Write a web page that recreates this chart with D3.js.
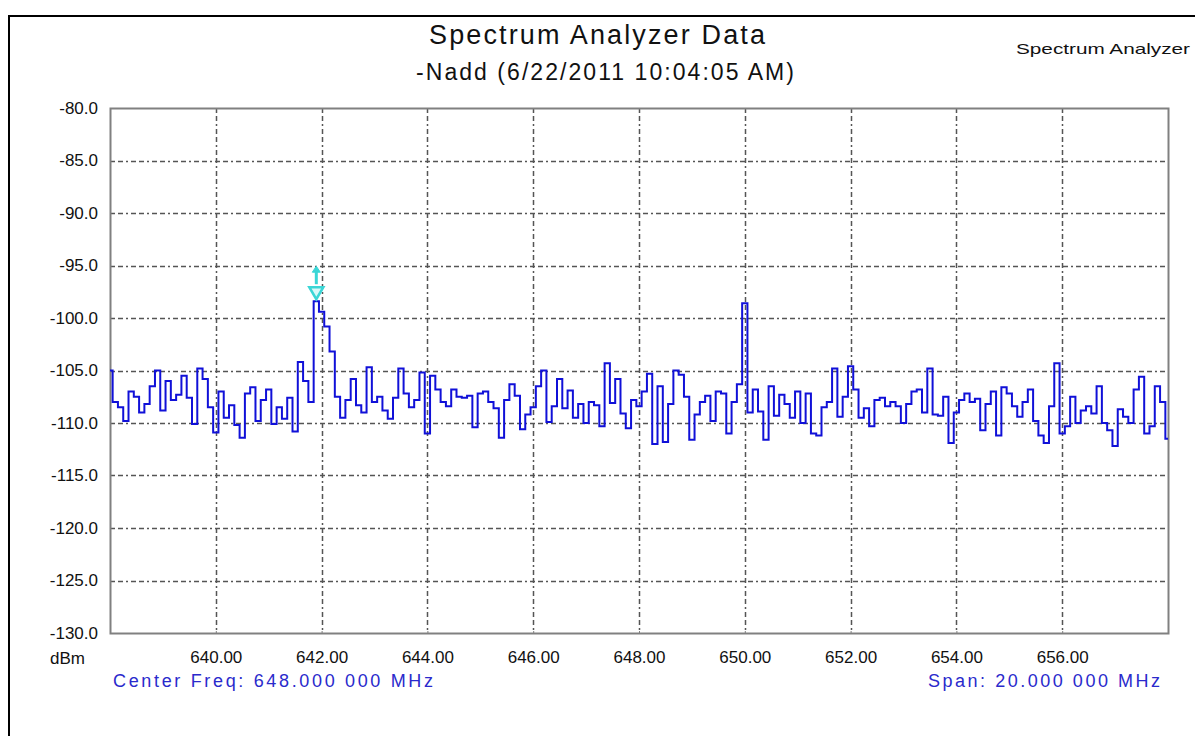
<!DOCTYPE html>
<html>
<head>
<meta charset="utf-8">
<script src="https://cdn.jsdelivr.net/npm/d3@7"></script>
<style>
  html, body { margin: 0; padding: 0; background: #fff; }
  svg { display: block; font-family: "Liberation Sans", Arial, sans-serif; }
</style>
</head>
<body>
<svg id="chart" width="1195" height="736"></svg>
<script>
// Sweep settings
const startFreq = 638.0;      // MHz
const stepFreq = 0.1;         // MHz per trace point
const centerFreq = 648.0;
const spanFreq = 20.0;

// Trace amplitude, dBm, one value per 0.1 MHz from 638.0 to 658.0
const traceDbm = [
  -105.0, -108.0, -108.5, -109.8, -107.0, -107.5, -109.0, -108.2, -106.5, -105.0,
  -108.8, -106.0, -107.8, -107.3, -105.5, -107.6, -110.1, -104.8, -105.8, -108.5,
  -110.9, -107.0, -109.5, -108.3, -110.2, -111.4, -107.2, -106.6, -109.8, -107.8,
  -106.8, -110.1, -108.5, -109.6, -107.6, -110.8, -104.2, -106.0, -108.0, -98.4,
  -99.4, -100.8, -103.2, -107.5, -109.5, -107.8, -105.8, -108.3, -109.0, -104.7,
  -108.0, -107.5, -108.8, -109.6, -107.6, -104.8, -107.2, -108.5, -107.8, -105.2,
  -111.0, -105.5, -106.8, -108.0, -108.4, -106.8, -107.5, -107.6, -107.4, -110.4,
  -107.2, -107.0, -108.0, -108.6, -111.4, -107.8, -106.3, -107.4, -110.6, -109.2,
  -108.5, -106.5, -105.0, -109.9, -108.4, -105.8, -108.6, -106.9, -109.5, -108.2,
  -110.0, -108.0, -108.3, -110.3, -104.3, -108.1, -105.8, -109.1, -110.5, -107.8,
  -108.4, -107.0, -105.3, -112.0, -106.5, -111.8, -108.2, -105.0, -105.4, -107.5,
  -111.6, -109.2, -108.0, -107.4, -109.8, -107.0, -107.2, -111.0, -108.0, -106.3,
  -98.6, -109.0, -106.8, -108.9, -111.6, -106.5, -109.3, -107.3, -108.2, -109.5,
  -107.0, -110.0, -107.2, -111.0, -111.2, -108.5, -108.0, -104.8, -109.4, -107.5,
  -104.6, -106.8, -109.5, -108.6, -110.3, -107.8, -107.6, -108.4, -108.0, -108.4,
  -110.0, -108.2, -107.0, -106.8, -109.0, -104.8, -109.2, -109.3, -107.5, -111.9,
  -109.0, -107.8, -107.2, -108.0, -107.7, -110.7, -108.2, -107.0, -111.2, -106.6,
  -107.2, -108.4, -109.4, -108.0, -106.8, -109.8, -111.2, -111.9, -108.4, -104.3,
  -111.0, -110.3, -107.5, -110.0, -108.8, -108.4, -109.1, -106.5, -110.0, -110.7,
  -112.2, -108.7, -109.4, -110.0, -106.8, -105.6, -111.0, -110.3, -106.5, -108.0,
  -111.5
];

// Marker on the strongest carrier
const markerFreq = [641.9];
const markerDbm = [-98.4];

// Axis ticks
const xTicks = [640, 642, 644, 646, 648, 650, 652, 654, 656];
const yTicks = [-80, -85, -90, -95, -100, -105, -110, -115, -120, -125, -130];

// Titles and captions
const titleText = "Spectrum Analyzer Data";
const subtitleText = "-Nadd (6/22/2011 10:04:05 AM)";
const cornerText = "Spectrum Analyzer";
const unitText = "dBm";
const centerText = "Center Freq: 648.000 000 MHz";
const spanText = "Span: 20.000 000 MHz";

const svg = d3.select("#chart");
const plot = { left: 110, top: 108, right: 1168, bottom: 633 };

const x = d3.scaleLinear()
  .domain([centerFreq - spanFreq / 2, centerFreq + spanFreq / 2])
  .range([plot.left, plot.right]);
const y = d3.scaleLinear()
  .domain([-130, -80])
  .range([plot.bottom, plot.top]);

const trace = traceDbm.map((v, i) => ({ f: startFreq + i * stepFreq, v }));

// Outer frame (top and left edges)
svg.append("path")
  .attr("d", "M9,736 V16 H1195")
  .attr("fill", "none")
  .attr("stroke", "#000")
  .attr("stroke-width", 2);

// Grid
const gridDash = "5,3,5,3,2,3";
const grid = svg.append("g").attr("class", "grid");
grid.selectAll("line.v")
  .data(xTicks)
  .join("line")
  .attr("class", "v")
  .attr("x1", d => Math.round(x(d)) + 0.5)
  .attr("x2", d => Math.round(x(d)) + 0.5)
  .attr("y1", plot.top)
  .attr("y2", plot.bottom)
  .attr("stroke", "#555")
  .attr("stroke-width", 1.5)
  .attr("stroke-dasharray", gridDash);
grid.selectAll("line.h")
  .data(yTicks.filter(d => d > -130 && d < -80))
  .join("line")
  .attr("class", "h")
  .attr("x1", plot.left)
  .attr("x2", plot.right)
  .attr("y1", d => Math.round(y(d)) + 0.5)
  .attr("y2", d => Math.round(y(d)) + 0.5)
  .attr("stroke", "#555")
  .attr("stroke-width", 1.5)
  .attr("stroke-dasharray", gridDash);

// Plot border
svg.append("rect")
  .attr("x", plot.left + 0.5)
  .attr("y", plot.top + 0.5)
  .attr("width", plot.right - plot.left)
  .attr("height", plot.bottom - plot.top)
  .attr("fill", "none")
  .attr("stroke", "#808080")
  .attr("stroke-width", 2);

// Axes
const xAxis = d3.axisBottom(x)
  .tickValues(xTicks)
  .tickSize(-3)
  .tickPadding(17)
  .tickFormat(d3.format(".2f"));
svg.append("g")
  .attr("transform", `translate(0,${plot.bottom + 1})`)
  .call(xAxis)
  .call(g => g.select(".domain").remove())
  .call(g => g.selectAll("line").attr("stroke", "#808080"))
  .call(g => g.selectAll("text")
    .attr("font-size", 17)
    .attr("fill", "#111"));

const yAxis = d3.axisLeft(y)
  .tickValues(yTicks)
  .tickSize(0)
  .tickPadding(12)
  .tickFormat(d => d.toFixed(1));
svg.append("g")
  .attr("transform", `translate(${plot.left},0)`)
  .call(yAxis)
  .call(g => g.select(".domain").remove())
  .call(g => g.selectAll("text")
    .attr("font-size", 17)
    .attr("fill", "#111"));

// Trace, drawn as held steps between sweep points
const line = d3.line()
  .x(d => x(d.f))
  .y(d => y(d.v))
  .curve(d3.curveStep);
svg.append("path")
  .datum(trace)
  .attr("d", line)
  .attr("fill", "none")
  .attr("stroke", "#1010d8")
  .attr("stroke-width", 2);

// Marker: downward triangle at the peak with an arrow above it
const mx = x(markerFreq[0]);
const my = y(markerDbm[0]);
const mk = svg.append("g").attr("stroke", "#3ad6d6").attr("fill", "none");
mk.append("path")
  .attr("d", `M${mx - 7},${my - 14} L${mx + 7},${my - 14} L${mx},${my - 2} Z`)
  .attr("stroke-width", 2.5)
  .attr("fill", "#d8f8f8");
mk.append("line")
  .attr("x1", mx).attr("x2", mx)
  .attr("y1", my - 17).attr("y2", my - 32)
  .attr("stroke-width", 3);
mk.append("path")
  .attr("d", `M${mx - 4},${my - 29} L${mx},${my - 35} L${mx + 4},${my - 29} Z`)
  .attr("fill", "#3ad6d6")
  .attr("stroke-width", 1);

// Titles
svg.append("text")
  .attr("x", 597).attr("y", 44)
  .attr("text-anchor", "middle")
  .attr("font-size", 27)
  .attr("textLength", 336)
  .attr("lengthAdjust", "spacing")
  .attr("fill", "#111")
  .text(titleText);
svg.append("text")
  .attr("x", 605).attr("y", 80)
  .attr("text-anchor", "middle")
  .attr("font-size", 23)
  .attr("textLength", 378)
  .attr("lengthAdjust", "spacing")
  .attr("fill", "#111")
  .text(subtitleText);
svg.append("text")
  .attr("x", 1016).attr("y", 54)
  .attr("font-size", 15)
  .attr("textLength", 174)
  .attr("lengthAdjust", "spacingAndGlyphs")
  .attr("fill", "#111")
  .text(cornerText);

// Unit and sweep captions
svg.append("text")
  .attr("x", 50).attr("y", 664)
  .attr("font-size", 17)
  .attr("fill", "#111")
  .text(unitText);
svg.append("text")
  .attr("x", 113).attr("y", 687)
  .attr("font-size", 18)
  .attr("textLength", 320)
  .attr("lengthAdjust", "spacing")
  .attr("fill", "#2a2acc")
  .text(centerText);
svg.append("text")
  .attr("x", 1160).attr("y", 687)
  .attr("text-anchor", "end")
  .attr("font-size", 18)
  .attr("textLength", 232)
  .attr("lengthAdjust", "spacing")
  .attr("fill", "#2a2acc")
  .text(spanText);
</script>
</body>
</html>
